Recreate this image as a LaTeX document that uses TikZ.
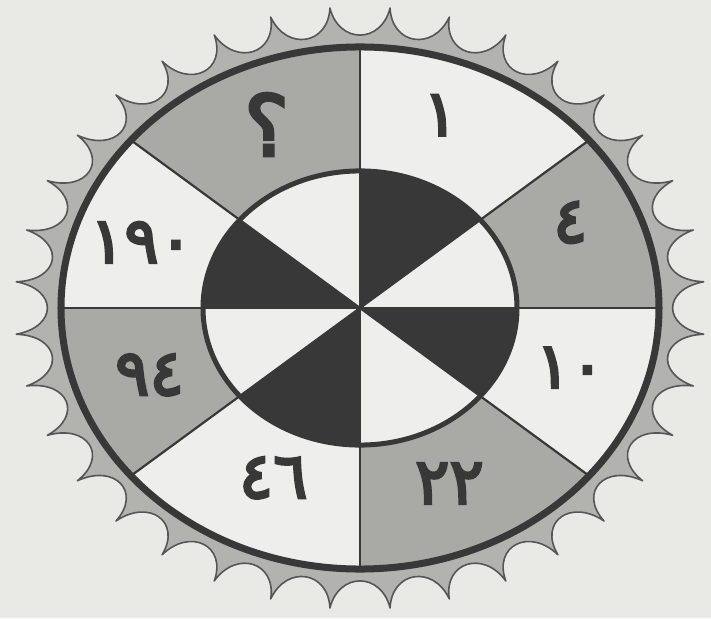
\documentclass[tikz,border=0pt]{standalone}
\usepackage{fontspec}
\newfontfamily\arabicfont[Script=Arabic,FakeBold=4]{DejaVu Sans}
\definecolor{paper}{HTML}{E9E9E6}
\definecolor{pale}{HTML}{EEEEEC}
\definecolor{greyfill}{HTML}{A9A9A6}
\definecolor{ink}{HTML}{383838}
\tikzset{numeral/.style={font=\arabicfont\fontsize{64}{64}\selectfont,text=ink,inner sep=0pt},
  spoke/.style={draw=ink,line width=2.2pt},rim/.style={draw=ink,line width=7pt},
  hubrim/.style={draw=ink,line width=5pt},teeth/.style={fill=greyfill!90,draw=ink!85,line width=1.6pt,line join=round}}

\begin{document}
\begin{tikzpicture}[x=1pt,y=1pt]
\useasboundingbox[fill=paper] (-360,-310) rectangle (351,308);
\begin{scope}[yscale=0.873]
\coordinate (hub) at (0,0);
% toothed edge
\filldraw[teeth] (-5:345) \foreach \i in {0,...,35}{ .. controls ({\i*10-4}:303) and ({\i*10+4}:303) .. ({\i*10+5}:345)} -- cycle;
% outer sectors
\foreach \a/\b/\c in {0/40/greyfill,40/90/pale,90/140/greyfill,140/180/pale,180/220/greyfill,220/270/pale,270/320/greyfill,320/360/pale}
  \fill[\c] (hub) -- (\a:299) arc[start angle=\a,end angle=\b,radius=299] -- cycle;
% inner sectors
\foreach \a/\b/\c in {0/40/pale,40/90/ink,90/140/pale,140/180/ink,180/220/pale,220/270/ink,270/320/pale,320/360/ink}
  \fill[\c] (hub) -- (\a:157) arc[start angle=\a,end angle=\b,radius=157] -- cycle;
\foreach \a in {0,40,90,140,180,220,270,320}
  \draw[spoke] (hub) -- (\a:299);
\draw[rim] (hub) circle[radius=299];
\draw[hubrim] (hub) circle[radius=157];
% numbers
\foreach \ang/\rad/\num/\lbl in {25/232/٤/four,70/235/١/one,161/231/١٩٠/oneninety,
  200/224/٩٤/ninetyfour,246/213/٤٦/fortysix,294/220/٢٢/twentytwo,342/221/١٠/ten}
  \node[numeral] (\lbl) at (\ang:\rad) {\num};
\node[numeral,font=\arabicfont\fontsize{84}{84}\selectfont] (ask) at (114:230) {؟};
\end{scope}
\end{tikzpicture}
\end{document}
